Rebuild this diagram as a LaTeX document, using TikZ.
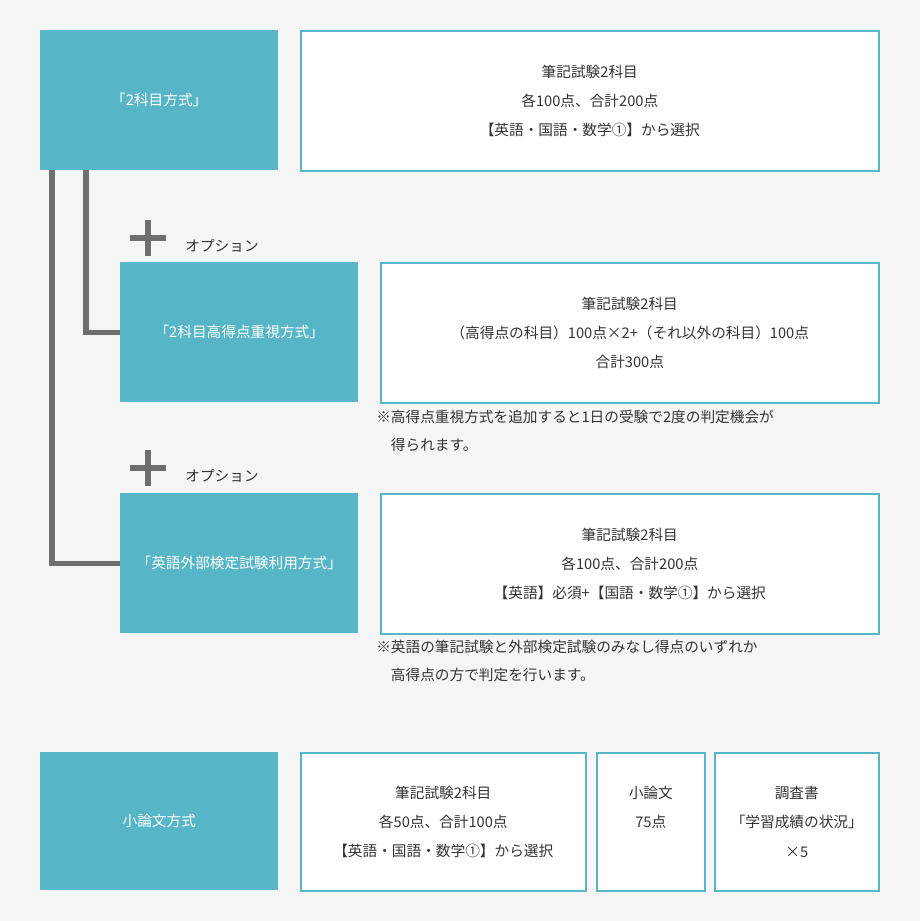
\documentclass[tikz,border=0pt]{standalone}
\usepackage{fontspec}
\setmainfont{Noto Sans CJK JP}
\usetikzlibrary{positioning}
\definecolor{teal1}{HTML}{57B5C8}
\definecolor{bgc}{HTML}{F4F5F4}
\definecolor{linec}{HTML}{6E6E6E}
\definecolor{txt}{HTML}{333333}
\tikzset{
  method/.style={fill=teal1,text=white,anchor=north west,minimum width=178.5pt,minimum height=105pt,inner sep=0pt,font=\fontsize{11}{13}\selectfont},
  detail/.style={draw=teal1,line width=1.2pt,fill=white,text=txt,anchor=north west,inner sep=0pt,align=center,font=\fontsize{11}{22}\selectfont},
  note/.style={anchor=north west,text=txt,align=left,inner sep=0pt,font=\fontsize{11}{21}\selectfont},
  conn/.style={draw=linec,line width=3.8pt},
  plus/.style={draw=linec,line width=3.8pt}
}
\begin{document}
\begin{tikzpicture}[x=0.75pt,y=-0.75pt]
  \fill[bgc] (0,0) rectangle (920,921);
  \useasboundingbox (0,0) rectangle (920,921);
  % rows
  \node[method] (twosub) at (40,30) {「2科目方式」};
  \node[detail,minimum width=433.5pt,minimum height=105pt] (twodet) at (300,30) {筆記試験2科目\\各100点、合計200点\\【英語・国語・数学①】から選択};
  \node[method] (high) at (120,262) {「2科目高得点重視方式」};
  \node[detail,minimum width=373.5pt,minimum height=105pt] (highdet) at (380,262) {筆記試験2科目\\（高得点の科目）100点×2+（それ以外の科目）100点\\合計300点};
  \node[note] (highnote) at (376,410) {※高得点重視方式を追加すると1日の受験で2度の判定機会が\\\hspace*{1em}得られます。};
  \node[method] (eng) at (120,493) {「英語外部検定試験利用方式」};
  \node[detail,minimum width=373.5pt,minimum height=105pt] (engdet) at (380,493) {筆記試験2科目\\各100点、合計200点\\【英語】必須+【国語・数学①】から選択};
  \node[note] (engnote) at (376,640) {※英語の筆記試験と外部検定試験のみなし得点のいずれか\\\hspace*{1em}高得点の方で判定を行います。};
  \node[method,minimum height=103.5pt] (essay) at (40,752) {小論文方式};
  \node[detail,minimum width=213.75pt,minimum height=103.5pt] (essdet) at (300,752) {筆記試験2科目\\各50点、合計100点\\【英語・国語・数学①】から選択};
  \node[detail,minimum width=81pt,minimum height=103.5pt,text depth=22pt] (esspts) at (596,752) {小論文\\75点};
  \node[detail,minimum width=123pt,minimum height=103.5pt] (report) at (714,752) {調査書\\「学習成績の状況」\\×5};
  % option marks
  \foreach \y/\n in {238/optA,468/optB}{
    \draw[plus] (130,\y) -- (166,\y);
    \draw[plus] (148,\y-18) -- (148,\y+18);
    \node[text=txt,font=\fontsize{11}{13}\selectfont] (\n) at (222,\y+8) {オプション};
  }
  % connectors
  \coordinate (ca) at (86,170);
  \coordinate (cb) at (52,170);
  \draw[conn] (ca) |- (high.west);
  \draw[conn] (cb) |- (eng.west);
\end{tikzpicture}
\end{document}
